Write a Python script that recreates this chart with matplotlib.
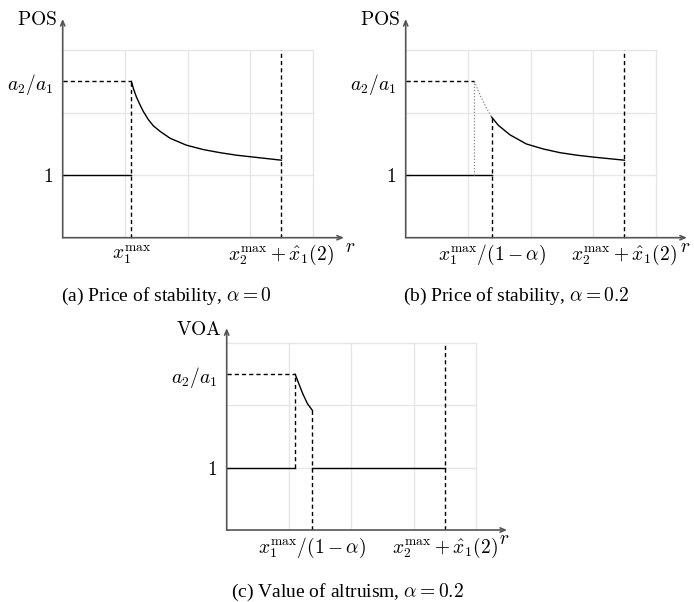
import matplotlib
matplotlib.use("Agg")
import matplotlib.pyplot as plt

plt.rcParams['mathtext.fontset'] = 'cm'
plt.rcParams['font.family'] = ['Liberation Serif', 'DejaVu Serif']

W, H = 694, 602

# values (data units: 1 grid cell = 1)
x1 = 1.1        # x_1^max
x1a = 1.375     # x_1^max / (1 - alpha)
x2 = 3.5        # x_2^max + hat x_1(2)
ratio = 2.5     # a_2 / a_1

# (a) price of stability, alpha = 0
a_curve_x = [1.1, 1.13, 1.18, 1.24, 1.29, 1.37, 1.45, 1.56, 1.72, 1.98, 2.25, 2.52, 2.78, 3.05, 3.5]
a_curve_y = [2.5, 2.39, 2.25, 2.12, 2.02, 1.89, 1.79, 1.70, 1.59, 1.48, 1.41, 1.36, 1.32, 1.29, 1.24]

# (b) price of stability, alpha = 0.2
b_dot_x = [1.1, 1.2, 1.29, 1.375]
b_dot_y = [2.5, 2.26, 2.08, 1.93]
b_curve_x = [1.375, 1.48, 1.67, 1.93, 2.2, 2.47, 2.74, 3.0, 3.5]
b_curve_y = [1.93, 1.80, 1.645, 1.50, 1.42, 1.36, 1.32, 1.29, 1.24]

# (c) value of altruism, alpha = 0.2
c_curve_x = [1.1, 1.145, 1.22, 1.295, 1.375]
c_curve_y = [2.5, 2.38, 2.19, 2.03, 1.92]

captions = [r"(a) Price of stability, $\alpha = 0$",
            r"(b) Price of stability, $\alpha = 0.2$",
            r"(c) Value of altruism, $\alpha = 0.2$"]

AXC = '#555555'
GRID = '#e6e6e6'
FS = 14


def make_axes(fig, ox, oy, scale, ytop, ylabel, xticks, xlabels, r_dx):
    ax = fig.add_axes([ox / W, (H - oy) / H, 4.5 * scale / W, ytop * scale / H])
    ax.set_xlim(0, 4.5)
    ax.set_ylim(0, ytop)
    for s in ax.spines.values():
        s.set_visible(False)
    # light grid, 4 x 3 cells
    for gx in [1, 2, 3, 4]:
        ax.plot([gx, gx], [0, 3], color=GRID, lw=1.0, zorder=0)
    for gy in [1, 2, 3]:
        ax.plot([0, 4], [gy, gy], color=GRID, lw=1.0, zorder=0)
    # axes with arrow heads
    arr = dict(arrowstyle='->,head_length=0.35,head_width=0.15', color=AXC, lw=1.2,
               shrinkA=0, shrinkB=0)
    ax.annotate('', xy=(4.5, 0), xytext=(0, 0), arrowprops=arr, annotation_clip=False)
    ax.annotate('', xy=(0, ytop), xytext=(0, 0), arrowprops=arr, annotation_clip=False)
    ax.annotate(ylabel, xy=(0, ytop), xytext=(-4, -1), textcoords='offset points',
                ha='right', va='center', fontsize=FS, annotation_clip=False)
    ax.annotate('$r$', xy=(4.5, 0), xytext=(r_dx * 0.72, -7), textcoords='offset points',
                ha='center', va='center', fontsize=FS, annotation_clip=False)
    ax.set_xticks(xticks)
    ax.set_xticklabels(xlabels)
    ax.set_yticks([1, ratio])
    ax.set_yticklabels(['$1$', '$a_2/a_1$'])
    ax.tick_params(direction='in', length=3, width=0.8, color=AXC, labelsize=FS)
    ax.tick_params(axis='y', pad=7)
    ax.tick_params(axis='x', pad=4)
    return ax


dash = dict(color='black', lw=1.0, dashes=(3, 2.2))
solid = dict(color='black', lw=1.0)
dotted = dict(color='#888888', lw=0.9, dashes=(1, 1.5))

fig = plt.figure(figsize=(W / 100, H / 100), dpi=100)

# (a)
ax = make_axes(fig, 62.7, 237.7, 62.5, 3.5, r'$\mathrm{POS}$', [x1, x2],
               [r'$x_1^{\max}$', r'$x_2^{\max}+\hat{x}_1(2)$'], 6)
ax.plot([0, x1], [1, 1], **solid)
ax.plot(a_curve_x, a_curve_y, **solid)
ax.plot([0, x1], [ratio, ratio], **dash)
ax.plot([x1, x1], [0, ratio], **dash)
ax.plot([x2, x2], [0, 3], **dash)

# (b)
ax = make_axes(fig, 405.7, 237.7, 62.5, 3.5, r'$\mathrm{POS}$', [x1a, x2],
               [r'$x_1^{\max}/(1-\alpha)$', r'$x_2^{\max}+\hat{x}_1(2)$'], -2)
ax.plot([0, x1a], [1, 1], **solid)
ax.plot(b_curve_x, b_curve_y, **solid)
ax.plot(b_dot_x, b_dot_y, **dotted)
ax.plot([x1, x1], [1, ratio], **dotted)
ax.plot([0, x1], [ratio, ratio], **dash)
ax.plot([x1a, x1a], [0, b_curve_y[0]], **dash)
ax.plot([x2, x2], [0, 3], **dash)

# (c)
ax = make_axes(fig, 226.7, 530, 62.3, 3.24, r'$\mathrm{VOA}$', [x1a, x2],
               [r'$x_1^{\max}/(1-\alpha)$', r'$x_2^{\max}+\hat{x}_1(2)$'], -3)
ax.plot([0, x1], [1, 1], **solid)
ax.plot([x1a, x2], [1, 1], **solid)
ax.plot(c_curve_x, c_curve_y, **solid)
ax.plot([0, x1], [ratio, ratio], **dash)
ax.plot([x1, x1], [1, ratio], **dash)
ax.plot([x1a, x1a], [0, c_curve_y[-1]], **dash)
ax.plot([x2, x2], [0, 3], **dash)

# captions
for (cx, cy), txt in zip([(166, 296), (516, 296), (347, 592)], captions):
    fig.text(cx / W, 1 - cy / H, txt, ha='center', va='center', fontsize=FS)

fig.savefig('out.png', dpi=100)
